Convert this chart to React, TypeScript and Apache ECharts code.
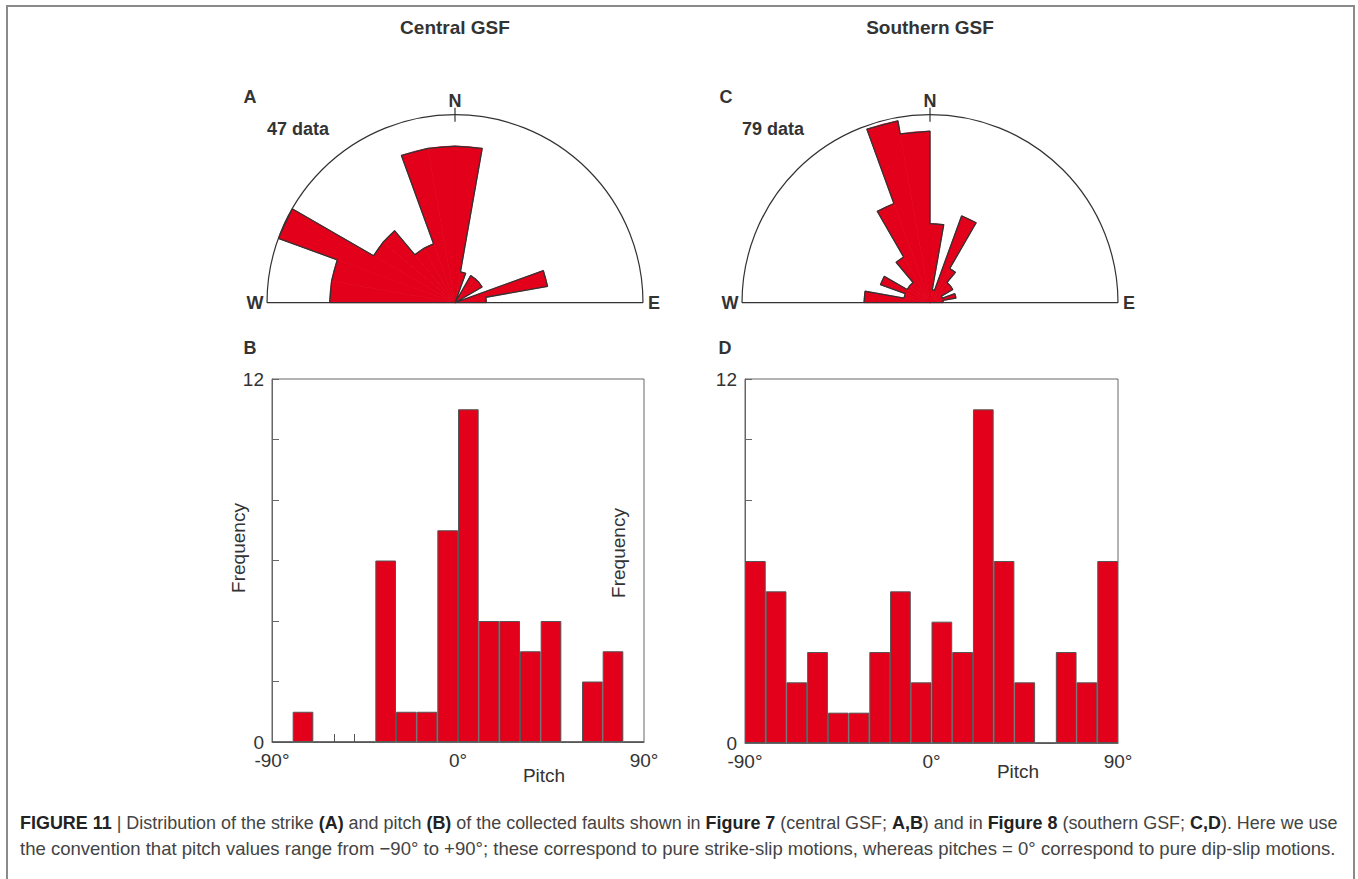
import React, { useEffect, useRef } from 'react';
import * as echarts from 'echarts';

// ---------- DATA ----------
// strike bins (degrees azimuth, start of each 10° bin, W = -90, N = 0, E = 90)
const strikeBinStarts = [-90, -80, -70, -60, -50, -40, -30, -20, -10, 0, 10, 20, 30, 40, 50, 60, 70, 80];
const strikeCentral = [4, 4, 6, 3, 3, 2, 2, 5, 5, 5, 1, 0, 1, 1, 1, 0, 3, 1];
const strikeSouthern = [5, 2, 4, 2, 2, 4, 8, 14, 13, 6, 1, 7, 3, 2, 2, 1, 2, 1];
const centralCount = '47 data';
const southernCount = '79 data';

// pitch histogram bins (start of each 10° bin)
const pitchBinStarts = [-90, -80, -70, -60, -50, -40, -30, -20, -10, 0, 10, 20, 30, 40, 50, 60, 70, 80];
const pitchCentral = [0, 1, 0, 0, 0, 6, 1, 1, 7, 11, 4, 4, 3, 4, 0, 2, 3, 0];
const pitchSouthern = [6, 5, 2, 3, 1, 1, 3, 5, 2, 4, 3, 11, 6, 2, 0, 3, 2, 6];
const pitchTickLabels = [-90, 0, 90];
const freqTickLabels = [0, 12];
const freqMax = 12;

// ---------- STYLE ----------
const RED = '#e2001a';
const DARK = '#333333';
const FONT = '"Liberation Sans", Arial, Helvetica, sans-serif';

const ROSE_R = 188;
const ROSE_A = [455, 302.7];
const ROSE_C = [930, 302.7];

const fullCats = Array.from({ length: 36 }, (_, i) => String(-180 + i * 10));

function roseBars(vals: number[]) {
  return fullCats.map((c) => {
    const s = Number(c);
    const idx = strikeBinStarts.indexOf(s);
    return idx >= 0 ? vals[idx] : null;
  });
}
function roseOutline(vals: number[]) {
  const pts: number[][] = [];
  vals.forEach((v, i) => {
    const a0 = strikeBinStarts[i];
    pts.push([v, a0], [v, a0 + 10]);
  });
  return pts;
}

const hiddenAxis = {
  axisLine: { show: false },
  axisTick: { show: false },
  axisLabel: { show: false },
  splitLine: { show: false },
  splitArea: { show: false },
};

function txt(x: number, y: number, text: string, size: number, bold = false, extra: any = {}) {
  return {
    type: 'text',
    x,
    y,
    silent: true,
    ...extra,
    style: {
      text,
      fontSize: size,
      fontWeight: bold ? 'bold' : 'normal',
      fontFamily: FONT,
      fill: DARK,
      align: 'center',
      verticalAlign: 'middle',
      ...(extra.style || {}),
    },
  };
}

function roseFrame(c: number[], r: number) {
  return [
    {
      type: 'arc',
      silent: true,
      shape: { cx: c[0], cy: c[1], r, startAngle: Math.PI, endAngle: 2 * Math.PI, clockwise: true },
      style: { stroke: DARK, lineWidth: 1.2, fill: 'none' },
      z: 10,
    },
    {
      type: 'line',
      silent: true,
      shape: { x1: c[0] - r, y1: c[1], x2: c[0] + r, y2: c[1] },
      style: { stroke: DARK, lineWidth: 1.2 },
      z: 10,
    },
    {
      type: 'line',
      silent: true,
      shape: { x1: c[0], y1: c[1] - r - 7, x2: c[0], y2: c[1] - r + 7 },
      style: { stroke: DARK, lineWidth: 1.2 },
      z: 10,
    },
    txt(c[0], c[1] - r - 14, 'N', 18, true),
    txt(c[0] - r - 12, c[1], 'W', 18, true),
    txt(c[0] + r + 11, c[1], 'E', 18, true),
  ];
}

function histX(gridIndex: number, ticks: number[]) {
  return [
    { gridIndex, type: 'category', data: pitchBinStarts.map(String), show: false, position: 'top' },
    {
      gridIndex,
      type: 'value',
      position: 'bottom',
      min: -90,
      max: 90,
      interval: 90,
      axisLine: { show: true, onZero: false, lineStyle: { color: '#666', width: 1 } },
      axisTick: {
        show: ticks.length > 0,
        inside: true,
        length: 8,
        customValues: ticks,
        lineStyle: { color: '#555', width: 1 },
      },
      axisLabel: {
        show: true,
        customValues: pitchTickLabels,
        showMinLabel: true,
        showMaxLabel: true,
        formatter: (v: number) => `${v}°`,
        fontSize: 19,
        fontFamily: FONT,
        color: DARK,
        margin: 9,
      },
      splitLine: { show: false },
    },
  ];
}

function histY(gridIndex: number) {
  return {
    gridIndex,
    type: 'value',
    min: 0,
    max: freqMax,
    interval: 2,
    position: 'left',
    axisLine: { show: true, onZero: false, lineStyle: { color: '#666', width: 1 } },
    axisTick: { show: true, inside: true, length: 7, lineStyle: { color: '#666' } },
    axisLabel: {
      formatter: (v: number) => (freqTickLabels.indexOf(v) >= 0 ? String(v) : ''),
      fontSize: 19,
      fontFamily: FONT,
      color: DARK,
      margin: 8,
    },
    splitLine: { show: false },
  };
}

export default function App() {
  const ref = useRef<HTMLDivElement>(null);
  useEffect(() => {
    if (!ref.current) return;
    const chart = echarts.init(ref.current, undefined, { renderer: 'svg' });
    const option: any = {
      animation: false,
      backgroundColor: '#ffffff',
      textStyle: { fontFamily: FONT },
      polar: [
        { center: ROSE_A, radius: ROSE_R },
        { center: ROSE_A, radius: ROSE_R },
        { center: ROSE_C, radius: ROSE_R },
        { center: ROSE_C, radius: ROSE_R },
      ],
      angleAxis: [
        { polarIndex: 0, type: 'category', data: fullCats, startAngle: 270, clockwise: true, ...hiddenAxis },
        { polarIndex: 1, type: 'value', min: -180, max: 180, startAngle: 270, clockwise: true, ...hiddenAxis },
        { polarIndex: 2, type: 'category', data: fullCats, startAngle: 270, clockwise: true, ...hiddenAxis },
        { polarIndex: 3, type: 'value', min: -180, max: 180, startAngle: 270, clockwise: true, ...hiddenAxis },
      ],
      radiusAxis: [
        { polarIndex: 0, type: 'value', min: 0, max: 6, ...hiddenAxis },
        { polarIndex: 1, type: 'value', min: 0, max: 6, ...hiddenAxis },
        { polarIndex: 2, type: 'value', min: 0, max: 14.25, ...hiddenAxis },
        { polarIndex: 3, type: 'value', min: 0, max: 14.25, ...hiddenAxis },
      ],
      grid: [
        { left: 272, top: 379, width: 372, height: 363, show: true, borderColor: '#666', borderWidth: 1, backgroundColor: 'transparent' },
        { left: 745, top: 379, width: 373, height: 364, show: true, borderColor: '#666', borderWidth: 1, backgroundColor: 'transparent' },
      ],
      xAxis: [...histX(0, [-60, -50]), ...histX(1, [])],
      yAxis: [histY(0), histY(1)],
      series: [
        {
          type: 'bar',
          coordinateSystem: 'polar',
          polarIndex: 0,
          data: roseBars(strikeCentral),
          barCategoryGap: '0%',
          itemStyle: { color: RED, borderColor: RED, borderWidth: 0.7 },
          silent: true,
        },
        {
          type: 'line',
          coordinateSystem: 'polar',
          polarIndex: 1,
          data: roseOutline(strikeCentral),
          symbol: 'none',
          lineStyle: { color: DARK, width: 1.3 },
          silent: true,
        },
        {
          type: 'bar',
          coordinateSystem: 'polar',
          polarIndex: 2,
          data: roseBars(strikeSouthern),
          barCategoryGap: '0%',
          itemStyle: { color: RED, borderColor: RED, borderWidth: 0.7 },
          silent: true,
        },
        {
          type: 'line',
          coordinateSystem: 'polar',
          polarIndex: 3,
          data: roseOutline(strikeSouthern),
          symbol: 'none',
          lineStyle: { color: DARK, width: 1.3 },
          silent: true,
        },
        {
          type: 'bar',
          xAxisIndex: 0,
          yAxisIndex: 0,
          data: pitchCentral,
          barCategoryGap: '0%',
          itemStyle: { color: RED, borderColor: '#555', borderWidth: 1 },
          silent: true,
        },
        {
          type: 'bar',
          xAxisIndex: 2,
          yAxisIndex: 1,
          data: pitchSouthern,
          barCategoryGap: '0%',
          itemStyle: { color: RED, borderColor: '#555', borderWidth: 1 },
          silent: true,
        },
      ],
      graphic: [
        {
          type: 'rect',
          silent: true,
          shape: { x: 7, y: 6, width: 1347, height: 920 },
          style: { fill: 'none', stroke: '#8a8a8a', lineWidth: 2 },
        },
        txt(455, 27, 'Central GSF', 19, true),
        txt(930, 27, 'Southern GSF', 19, true),
        txt(250, 97, 'A', 18, true),
        txt(726, 97, 'C', 18, true),
        txt(250, 348, 'B', 18, true),
        txt(725, 348, 'D', 18, true),
        txt(267, 128.5, centralCount, 18, true, { style: { align: 'left' } }),
        txt(742, 128.5, southernCount, 18, true, { style: { align: 'left' } }),
        ...roseFrame(ROSE_A, ROSE_R),
        ...roseFrame(ROSE_C, ROSE_R),
        txt(238, 548, 'Frequency', 19, false, { rotation: Math.PI / 2 }),
        txt(618, 553, 'Frequency', 19, false, { rotation: Math.PI / 2 }),
        txt(544, 775, 'Pitch', 19),
        txt(1018, 771, 'Pitch', 19),
        {
          type: 'text',
          x: 20,
          y: 823,
          silent: true,
          style: {
            text:
              '{b|FIGURE 11} | Distribution of the strike {b|(A)} and pitch {b|(B)} of the collected faults shown in {b|Figure 7} (central GSF; {b|A,B}) and in {b|Figure 8} (southern GSF; {b|C,D}). Here we use',
            rich: { b: { fontWeight: 'bold', fontSize: 17.95, fontFamily: FONT, fill: '#222' } },
            fontSize: 17.95,
            fontFamily: FONT,
            fill: '#444',
            align: 'left',
            verticalAlign: 'middle',
          },
        },
        {
          type: 'text',
          x: 20,
          y: 848,
          silent: true,
          style: {
            text:
              'the convention that pitch values range from \u221290\u00b0 to +90\u00b0; these correspond to pure strike-slip motions, whereas pitches = 0\u00b0 correspond to pure dip-slip motions.',
            fontSize: 18.55,
            fontFamily: FONT,
            fill: '#444',
            align: 'left',
            verticalAlign: 'middle',
          },
        },
      ],
    };
    chart.setOption(option);
    return () => chart.dispose();
  }, []);
  return (
    <div
      ref={ref}
      style={{ position: 'absolute', left: 0, top: 0, width: 1358, height: 879, background: '#fff' }}
    />
  );
}
